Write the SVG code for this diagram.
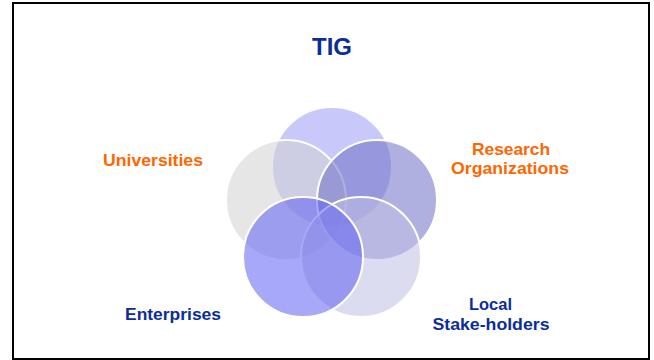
<svg xmlns="http://www.w3.org/2000/svg" width="654" height="360" viewBox="0 0 654 360">
  <style>
    .frame { fill: #ffffff; stroke: #000000; stroke-width: 2; }
    .ring { stroke: #ffffff; stroke-width: 2; fill-opacity: 0.55; }
    .lbl { font-family: "Liberation Sans", Arial, sans-serif; font-weight: bold; font-size: 17px; text-anchor: middle; }
    .orange { fill: #ff6600; }
    .blue { fill: #0a2d9a; }
    .title { font-family: "Liberation Sans", Arial, sans-serif; font-weight: bold; font-size: 23px; text-anchor: middle; fill: #0a2d9a; }
  </style>

  <rect class="frame" x="13" y="3" width="636" height="356"/>

  <!-- title -->
  <g id="title">
    <text class="title" x="332" y="55" textLength="40" lengthAdjust="spacingAndGlyphs">TIG</text>
  </g>

  <!-- five overlapping partner circles -->
  <g id="circles">
    <circle id="c-top" class="ring" cx="332" cy="167" r="60" fill="#9b9bf6" stroke="none"/>
    <circle id="c-left" class="ring" cx="286" cy="200" r="60" fill="#d2d2d2"/>
    <circle id="c-right" class="ring" cx="377" cy="200" r="60" fill="#6f6fc7"/>
    <circle id="c-bottom-right" class="ring" cx="361" cy="257" r="60" fill="#bfbfe4"/>
    <circle id="c-bottom-left" class="ring" cx="303" cy="257" r="60" fill="#6161f2"/>
  </g>

  <g id="universities">
    <text class="lbl orange" x="153" y="165.5" textLength="100" lengthAdjust="spacingAndGlyphs">Universities</text>
  </g>
  <g id="research">
    <text class="lbl orange" x="511" y="155" textLength="78" lengthAdjust="spacingAndGlyphs">Research</text>
    <text class="lbl orange" x="510" y="174" textLength="118" lengthAdjust="spacingAndGlyphs">Organizations</text>
  </g>
  <g id="enterprises">
    <text class="lbl blue" x="173" y="319.5" textLength="96" lengthAdjust="spacingAndGlyphs">Enterprises</text>
  </g>
  <g id="local">
    <text class="lbl blue" x="490.5" y="309.5" textLength="43" lengthAdjust="spacingAndGlyphs">Local</text>
    <text class="lbl blue" x="491" y="329.5" textLength="117" lengthAdjust="spacingAndGlyphs">Stake-holders</text>
  </g>

  <!-- connectors: none drawn -->
  <g id="connectors"/>
</svg>
